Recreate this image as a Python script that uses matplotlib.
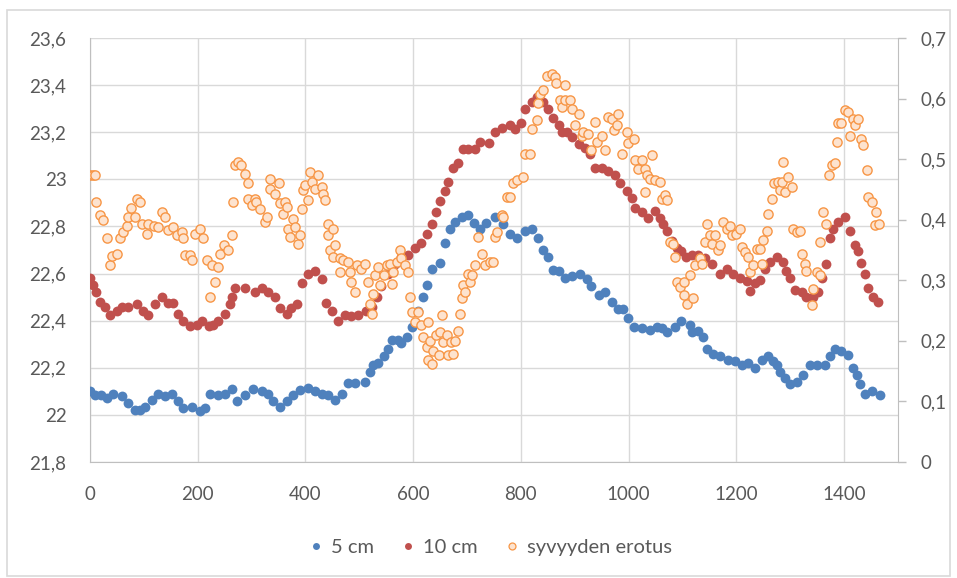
import matplotlib
matplotlib.use("Agg")
from matplotlib import pyplot as plt
from matplotlib.patches import Rectangle
from matplotlib.lines import Line2D

# 5 cm series (left axis)
x_5cm = [0, 10, 20, 31, 43, 59, 71, 84, 93, 102, 115, 127, 139, 152, 164, 173, 189, 204, 213, 223,
         238, 251, 263, 272, 288, 303, 320, 331, 340, 353, 365, 377, 390, 405, 418, 430, 442, 455, 467, 479,
         492, 510, 520, 526, 535, 545, 554, 560, 572, 578, 588, 597, 609, 619, 625, 634, 650, 659, 668, 677,
         690, 702, 712, 724, 736, 752, 767, 779, 792, 807, 820, 832, 841, 851, 860, 870, 882, 894, 910, 922,
         931, 944, 956, 969, 981, 990, 999, 1009, 1024, 1040, 1052, 1061, 1071, 1086, 1098, 1114, 1117, 1129, 1138, 1145,
         1157, 1170, 1185, 1197, 1210, 1222, 1235, 1247, 1259, 1268, 1275, 1281, 1290, 1300, 1312, 1324, 1337, 1349, 1364, 1373,
         1383, 1395, 1408, 1417, 1423, 1429, 1439, 1451, 1467]
y_5cm = [22.10, 22.085, 22.085, 22.07, 22.09, 22.08, 22.05, 22.02, 22.02, 22.035, 22.065, 22.09, 22.08, 22.09, 22.06, 22.03, 22.035, 22.015, 22.03, 22.09,
         22.085, 22.09, 22.11, 22.06, 22.085, 22.11, 22.10, 22.09, 22.057, 22.035, 22.057, 22.085, 22.106, 22.113, 22.10, 22.088, 22.085, 22.064, 22.09, 22.135,
         22.135, 22.14, 22.18, 22.21, 22.22, 22.25, 22.28, 22.32, 22.32, 22.305, 22.33, 22.375, 22.44, 22.50, 22.55, 22.62, 22.645, 22.73, 22.79, 22.82,
         22.84, 22.85, 22.815, 22.79, 22.815, 22.84, 22.81, 22.77, 22.75, 22.78, 22.79, 22.75, 22.70, 22.67, 22.617, 22.61, 22.58, 22.59, 22.60, 22.575,
         22.546, 22.51, 22.52, 22.48, 22.45, 22.45, 22.41, 22.375, 22.37, 22.36, 22.375, 22.37, 22.35, 22.375, 22.40, 22.38, 22.35, 22.355, 22.33, 22.28,
         22.26, 22.25, 22.234, 22.227, 22.21, 22.22, 22.20, 22.234, 22.25, 22.23, 22.21, 22.18, 22.156, 22.13, 22.14, 22.17, 22.21, 22.21, 22.21, 22.25,
         22.28, 22.27, 22.255, 22.20, 22.17, 22.13, 22.09, 22.10, 22.085]

# 10 cm series (left axis)
x_10cm = [0, 6, 12, 19, 28, 37, 50, 59, 71, 87, 99, 108, 121, 133, 145, 155, 164, 173, 186, 198,
          207, 220, 229, 238, 251, 260, 263, 269, 288, 306, 319, 331, 343, 353, 365, 374, 384, 393, 405, 418,
          430, 439, 449, 461, 473, 485, 498, 513, 523, 532, 541, 554, 566, 578, 591, 603, 615, 625, 634, 643,
          650, 659, 665, 674, 684, 693, 702, 715, 724, 740, 752, 764, 780, 789, 801, 807, 820, 829, 841, 851,
          860, 870, 876, 885, 894, 907, 919, 928, 938, 950, 962, 975, 984, 996, 1006, 1012, 1024, 1036, 1049, 1058,
          1064, 1071, 1080, 1089, 1098, 1107, 1117, 1129, 1141, 1154, 1170, 1182, 1194, 1207, 1219, 1225, 1235, 1244, 1253, 1262,
          1275, 1287, 1293, 1300, 1309, 1321, 1330, 1343, 1352, 1358, 1367, 1373, 1380, 1389, 1401, 1411, 1420, 1426, 1432, 1439,
          1445, 1454, 1463]
y_10cm = [22.58, 22.55, 22.52, 22.48, 22.46, 22.425, 22.44, 22.46, 22.46, 22.47, 22.44, 22.425, 22.47, 22.50, 22.475, 22.475, 22.43, 22.40, 22.376, 22.38,
          22.40, 22.376, 22.38, 22.40, 22.43, 22.47, 22.50, 22.54, 22.54, 22.52, 22.54, 22.52, 22.50, 22.454, 22.43, 22.454, 22.47, 22.56, 22.60, 22.61,
          22.575, 22.475, 22.44, 22.40, 22.425, 22.42, 22.425, 22.44, 22.46, 22.50, 22.546, 22.596, 22.64, 22.67, 22.68, 22.71, 22.73, 22.77, 22.81, 22.86,
          22.91, 22.95, 22.99, 23.05, 23.07, 23.13, 23.13, 23.13, 23.16, 23.155, 23.20, 23.22, 23.23, 23.215, 23.24, 23.30, 23.33, 23.35, 23.33, 23.30,
          23.26, 23.23, 23.20, 23.20, 23.18, 23.15, 23.135, 23.106, 23.05, 23.05, 23.035, 23.02, 22.985, 22.95, 22.92, 22.88, 22.86, 22.837, 22.865, 22.837,
          22.81, 22.78, 22.74, 22.71, 22.695, 22.67, 22.68, 22.68, 22.667, 22.64, 22.60, 22.62, 22.60, 22.58, 22.567, 22.525, 22.56, 22.574, 22.62, 22.65,
          22.67, 22.65, 22.61, 22.58, 22.53, 22.52, 22.50, 22.50, 22.52, 22.58, 22.64, 22.75, 22.79, 22.82, 22.84, 22.78, 22.72, 22.695, 22.645, 22.60,
          22.54, 22.50, 22.48]

# syvyyden erotus (right axis)
x_diff = [0, 5, 9, 12, 19, 25, 31, 37, 40, 50, 56, 62, 68, 71, 77, 84, 87, 93, 96, 105,
          108, 118, 127, 133, 139, 145, 155, 161, 170, 173, 176, 186, 189, 195, 204, 210, 217, 223, 226, 232,
          238, 241, 248, 257, 263, 266, 269, 275, 281, 288, 294, 294, 300, 306, 309, 316, 325, 328, 334, 334,
          343, 350, 353, 359, 362, 365, 368, 371, 377, 381, 387, 390, 393, 396, 399, 405, 408, 412, 418, 424,
          430, 433, 436, 442, 442, 446, 452, 452, 455, 464, 464, 470, 479, 482, 485, 492, 495, 504, 510, 516,
          520, 523, 526, 529, 535, 538, 545, 551, 557, 560, 563, 569, 575, 578, 585, 591, 594, 597, 603, 609,
          615, 619, 625, 628, 628, 631, 634, 637, 643, 647, 650, 653, 656, 662, 665, 671, 674, 678, 684, 687,
          690, 693, 696, 702, 705, 709, 715, 721, 727, 733, 743, 749, 752, 755, 764, 767, 774, 780, 786, 792,
          804, 808, 817, 820, 829, 832, 835, 841, 848, 857, 863, 866, 873, 876, 882, 882, 891, 894, 900, 907,
          913, 916, 925, 931, 938, 941, 950, 956, 962, 969, 972, 978, 981, 987, 996, 999, 1009, 1012, 1018, 1024,
          1031, 1031, 1034, 1040, 1043, 1049, 1058, 1061, 1067, 1071, 1077, 1083, 1086, 1089, 1095, 1102, 1102, 1108, 1114, 1120,
          1123, 1132, 1136, 1142, 1145, 1151, 1154, 1160, 1166, 1170, 1175, 1182, 1188, 1191, 1200, 1207, 1210, 1216, 1222, 1225,
          1231, 1238, 1244, 1247, 1250, 1256, 1259, 1266, 1269, 1278, 1281, 1284, 1287, 1290, 1296, 1303, 1306, 1312, 1318, 1321,
          1327, 1330, 1340, 1343, 1349, 1355, 1355, 1361, 1367, 1371, 1377, 1383, 1386, 1389, 1395, 1401, 1408, 1411, 1417, 1420,
          1426, 1432, 1435, 1442, 1445, 1451, 1457, 1460, 1464]
y_diff = [0.473, 0.473, 0.473, 0.43, 0.407, 0.40, 0.37, 0.325, 0.34, 0.344, 0.37, 0.38, 0.39, 0.405, 0.42, 0.405, 0.435, 0.43, 0.393, 0.377,
          0.393, 0.39, 0.388, 0.413, 0.405, 0.383, 0.388, 0.374, 0.38, 0.369, 0.341, 0.341, 0.333, 0.377, 0.385, 0.369, 0.333, 0.272, 0.325, 0.297,
          0.322, 0.344, 0.358, 0.35, 0.374, 0.429, 0.49, 0.495, 0.49, 0.476, 0.46, 0.435, 0.424, 0.435, 0.43, 0.418, 0.396, 0.405, 0.468, 0.451,
          0.443, 0.46, 0.427, 0.41, 0.43, 0.421, 0.385, 0.371, 0.402, 0.388, 0.36, 0.374, 0.418, 0.449, 0.457, 0.432, 0.479, 0.462, 0.451, 0.473,
          0.454, 0.443, 0.432, 0.393, 0.374, 0.35, 0.385, 0.338, 0.358, 0.336, 0.314, 0.333, 0.33, 0.314, 0.297, 0.281, 0.325, 0.319, 0.327, 0.297,
          0.261, 0.245, 0.278, 0.308, 0.322, 0.292, 0.308, 0.325, 0.327, 0.294, 0.314, 0.33, 0.35, 0.336, 0.325, 0.314, 0.272, 0.248, 0.231, 0.248,
          0.226, 0.206, 0.19, 0.168, 0.231, 0.2, 0.162, 0.184, 0.209, 0.176, 0.215, 0.242, 0.198, 0.209, 0.176, 0.198, 0.179, 0.2, 0.217, 0.245,
          0.27, 0.292, 0.281, 0.311, 0.297, 0.308, 0.325, 0.371, 0.344, 0.325, 0.33, 0.33, 0.371, 0.38, 0.407, 0.405, 0.438, 0.438, 0.46, 0.465,
          0.47, 0.509, 0.509, 0.55, 0.564, 0.592, 0.608, 0.614, 0.638, 0.641, 0.636, 0.625, 0.597, 0.586, 0.622, 0.597, 0.597, 0.583, 0.556, 0.575,
          0.539, 0.545, 0.542, 0.515, 0.561, 0.528, 0.539, 0.515, 0.57, 0.567, 0.548, 0.556, 0.575, 0.509, 0.545, 0.526, 0.534, 0.498, 0.484, 0.498,
          0.484, 0.446, 0.473, 0.468, 0.507, 0.465, 0.462, 0.435, 0.44, 0.432, 0.363, 0.36, 0.338, 0.297, 0.289, 0.297, 0.275, 0.261, 0.308, 0.27,
          0.325, 0.336, 0.327, 0.363, 0.393, 0.374, 0.36, 0.374, 0.35, 0.358, 0.396, 0.385, 0.39, 0.374, 0.377, 0.385, 0.355, 0.347, 0.338, 0.314,
          0.325, 0.352, 0.352, 0.327, 0.366, 0.382, 0.41, 0.435, 0.46, 0.462, 0.449, 0.462, 0.495, 0.446, 0.47, 0.454, 0.385, 0.38, 0.382, 0.344,
          0.327, 0.316, 0.259, 0.286, 0.314, 0.308, 0.363, 0.413, 0.393, 0.473, 0.49, 0.493, 0.528, 0.559, 0.559, 0.581, 0.578, 0.539, 0.567, 0.556,
          0.567, 0.534, 0.523, 0.482, 0.438, 0.429, 0.391, 0.413, 0.393]

left_ticks = [21.8, 22.0, 22.2, 22.4, 22.6, 22.8, 23.0, 23.2, 23.4, 23.6]
left_labels = ["21,8", "22", "22,2", "22,4", "22,6", "22,8", "23", "23,2", "23,4", "23,6"]
right_ticks = [0, 0.1, 0.2, 0.3, 0.4, 0.5, 0.6, 0.7]
right_labels = ["0", "0,1", "0,2", "0,3", "0,4", "0,5", "0,6", "0,7"]
x_ticks = [0, 200, 400, 600, 800, 1000, 1200, 1400]

BLUE = "#4F81BD"
RED = "#C0504D"
ORANGE = "#F79646"
ORANGE_FILL = "#FDE3CF"
TXT = "#595959"
GRID = "#D9D9D9"

plt.rcParams["font.family"] = ["Lato", "DejaVu Sans"]

W, H = 957, 578
fig = plt.figure(figsize=(W / 100, H / 100), dpi=100)
fig.patch.set_facecolor("white")
fig.patches.append(Rectangle((7 / W, 2 / H), 943 / W, 566 / H, transform=fig.transFigure,
                             fill=False, edgecolor=GRID, linewidth=1.2))

ax = fig.add_axes([90 / W, (H - 462) / H, (898 - 90) / W, (462 - 38) / H])
ax.scatter(x_5cm, y_5cm, s=50, color=BLUE, linewidths=0, zorder=3)
ax.scatter(x_10cm, y_10cm, s=50, color=RED, linewidths=0, zorder=3)
ax.set_xlim(0, 1500)
ax.set_ylim(21.8, 23.6)
ax.set_xticks(x_ticks)
ax.set_xticklabels([str(t) for t in x_ticks])
ax.set_yticks(left_ticks)
ax.set_yticklabels(left_labels)
ax.grid(True, color=GRID, linewidth=1)
ax.set_axisbelow(True)
ax.tick_params(axis="both", length=0, labelsize=13.5, colors=TXT)
ax.tick_params(axis="y", pad=17)
ax.tick_params(axis="x", pad=17)
for side in ["top", "right"]:
    ax.spines[side].set_visible(False)
for side in ["left", "bottom"]:
    ax.spines[side].set_color("#BFBFBF")

ax2 = ax.twinx()
ax2.scatter(x_diff, y_diff, s=44, facecolor=ORANGE_FILL, edgecolor=ORANGE, linewidths=1.0, zorder=4)
ax2.set_ylim(0, 0.7)
ax2.set_yticks(right_ticks)
ax2.set_yticklabels(right_labels)
ax2.tick_params(axis="y", length=6, width=1, color="#BFBFBF", labelsize=13.5, labelcolor=TXT, pad=10)
for side in ["top", "left", "bottom"]:
    ax2.spines[side].set_visible(False)
ax2.spines["right"].set_color("#BFBFBF")

handles = [
    Line2D([], [], linestyle="none", marker="o", markersize=5, color=BLUE, markeredgewidth=0),
    Line2D([], [], linestyle="none", marker="o", markersize=5, color=RED, markeredgewidth=0),
    Line2D([], [], linestyle="none", marker="o", markersize=5, markerfacecolor=ORANGE_FILL,
           markeredgecolor=ORANGE, markeredgewidth=0.9),
]
fig.legend(handles, ["5 cm", "10 cm", "syvyyden erotus"], loc="center",
           bbox_to_anchor=(491 / W, (H - 547) / H), ncol=3, frameon=False,
           fontsize=14.5, labelcolor=TXT, handlelength=0.6, handletextpad=0.45, columnspacing=1.4)

plt.savefig("out.png", dpi=100)
plt.close()
